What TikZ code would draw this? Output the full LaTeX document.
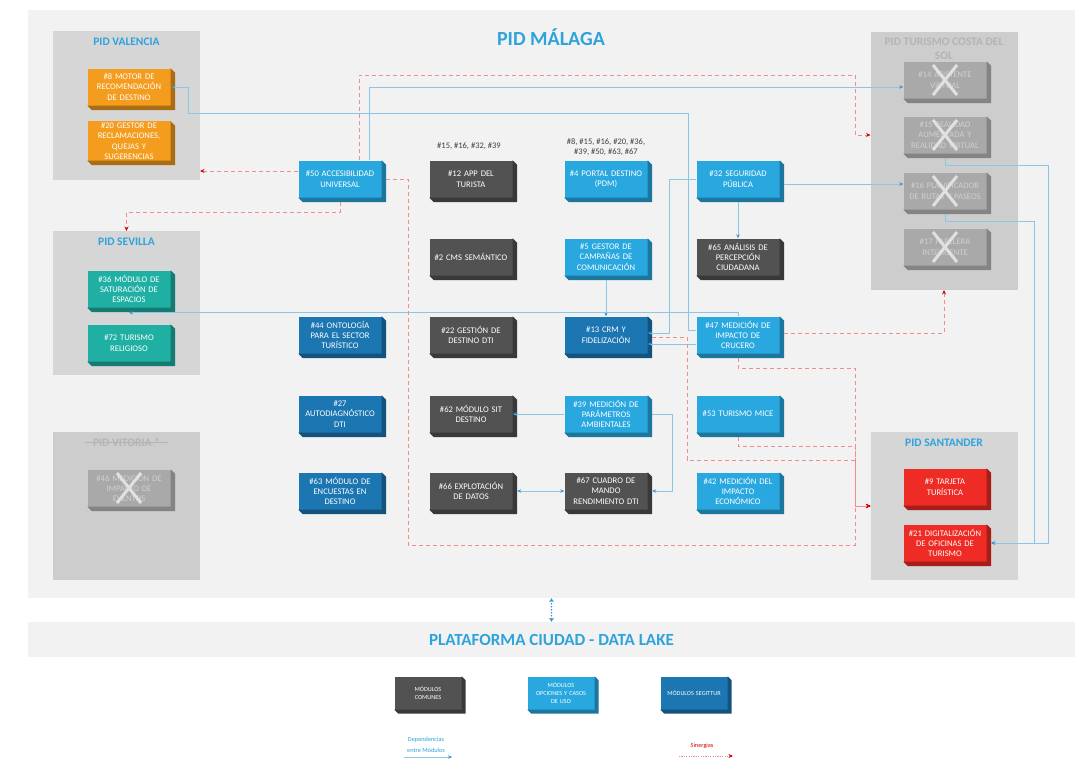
\documentclass[tikz,border=0pt]{standalone}
\usepackage{fontspec}
\setmainfont{Carlito}
\usetikzlibrary{arrows.meta,positioning}
\definecolor{panel}{HTML}{F2F2F2}
\definecolor{grp}{HTML}{D6D6D6}
\definecolor{grpoff}{HTML}{CDCDCD}
\definecolor{ttl}{HTML}{2EA3DC}
\definecolor{naranja}{HTML}{F39C1E}
\definecolor{turquesa}{HTML}{1FB0A3}
\definecolor{azul}{HTML}{29A8E0}
\definecolor{segittur}{HTML}{1B76B2}
\definecolor{comun}{HTML}{525252}
\definecolor{rojo}{HTML}{EE2B24}
\definecolor{apagado}{HTML}{A9A9A9}
\definecolor{linea}{HTML}{8DC5E6}
\definecolor{flecha}{HTML}{3C94CF}
\definecolor{sinerg}{HTML}{F08C8C}
\begin{document}
\begin{tikzpicture}[x=1pt,y=-1pt,
    mod/.style={fill=#1,text=white,minimum width=83pt,minimum height=37pt,
      text width=81pt,align=center,inner sep=1pt,font=\fontsize{8.6}{10.4}\selectfont},
    cruzado/.style={mod=apagado,text=apagado!55!white},
    leyenda/.style={mod=#1,minimum width=67pt,minimum height=33pt,text width=65pt,
      font=\fontsize{6.2}{7.6}\selectfont},
    grupo/.style={fill=#1,inner sep=0pt,outer sep=0pt,minimum width=147pt},
    gtit/.style={text=ttl,font=\fontsize{11.5}{13.5}\selectfont\bfseries,align=center},
    gtitoff/.style={gtit,text=grpoff!88!black},
    dep/.style={linea,line width=0.75pt,-{Stealth[length=4pt,width=3.5pt,color=flecha]}},
    sin/.style={sinerg,line width=0.75pt,dash pattern=on 4pt off 3pt,
      -{Stealth[length=4.5pt,width=4pt,color=red!85!black]}},
    nota/.style={text=black!75,font=\fontsize{8.5}{10}\selectfont,align=center}]
  \path[use as bounding box,fill=white] (0,0) rectangle (1087,758);
  \node[fill=panel,minimum width=1047pt,minimum height=588pt,inner sep=0pt] (malaga) at (551.5,304) {};
  \node[fill=panel,minimum width=1047pt,minimum height=35pt,inner sep=0pt] (lake) at (551.5,639.5) {};
  \node[text=ttl,font=\fontsize{20}{24}\selectfont\bfseries] (tmal) at (551,37) {PID MÁLAGA};
  \node[text=ttl,font=\fontsize{17}{20}\selectfont\bfseries] (tlake) at (lake) {PLATAFORMA CIUDAD - DATA LAKE};
  \node[grupo=grp,minimum height=149pt] (gval) at (126.5,105.5) {};
  \node[grupo=grp,minimum height=144pt] (gsev) at (126.5,303) {};
  \node[grupo=grpoff,minimum height=148pt] (gvit) at (126.5,505.5) {};
  \node[grupo=grpoff,minimum height=258pt] (gcos) at (944,161) {};
  \node[grupo=grp,minimum height=148pt] (gsan) at (944,506) {};
  \node[gtit] (tval) at ([yshift=-11pt]gval.north) {PID VALENCIA};
  \node[gtit] (tsev) at ([yshift=-11pt]gsev.north) {PID SEVILLA};
  \node[gtitoff,inner xsep=8pt] (tvit) at ([yshift=-11pt]gvit.north) {PID VITORIA *};
  \draw[grpoff!88!black,line width=0.5pt] (tvit.west) -- (tvit.east);
  \node[gtitoff] (tcos) at ([yshift=-17pt]gcos.north) {PID TURISMO COSTA DEL\\SOL};
  \node[gtit] (tsan) at ([yshift=-11pt]gsan.north) {PID SANTANDER};
  \node[nota] (l12) at (469,146) {\#15, \#16, \#32, \#39};
  \node[nota] (l4) at (606,147) {\#8, \#15, \#16, \#20, \#36,\\\#39, \#50, \#63, \#67};
  \foreach \nm/\x/\y/\col/\txt in {
      v8/129/87/naranja/{\#8 MOTOR DE\\RECOMENDACIÓN\\DE DESTINO},
      v20/129/141/naranja/{\#20 GESTOR DE\\RECLAMACIONES,\\QUEJAS Y\\SUGERENCIAS},
      s36/129/289/turquesa/{\#36 MÓDULO DE\\SATURACIÓN DE\\ESPACIOS},
      s72/129/343/turquesa/{\#72 TURISMO\\RELIGIOSO},
      m50/340/179/azul/{\#50 ACCESIBILIDAD\\UNIVERSAL},
      m44/340/335/segittur/{\#44 ONTOLOGÍA\\PARA EL SECTOR\\TURÍSTICO},
      m27/340/414/segittur/{\#27\\AUTODIAGNÓSTICO\\DTI},
      m63/340/491/segittur/{\#63 MÓDULO DE\\ENCUESTAS EN\\DESTINO},
      m12/471/179/comun/{\#12 APP DEL\\TURISTA},
      m2/471/257/comun/{\#2 CMS SEMÁNTICO},
      m22/471/335/comun/{\#22 GESTIÓN DE\\DESTINO DTI},
      m62/471/414/comun/{\#62 MÓDULO SIT\\DESTINO},
      m66/471/491/comun/{\#66 EXPLOTACIÓN\\DE DATOS},
      m4/606/179/azul/{\#4 PORTAL DESTINO\\(PDM)},
      m5/606/257/azul/{\#5 GESTOR DE\\CAMPAÑAS DE\\COMUNICACIÓN},
      m13/606/335/segittur/{\#13 CRM Y\\FIDELIZACIÓN},
      m39/606/414/azul/{\#39 MEDICIÓN DE\\PARÁMETROS\\AMBIENTALES},
      m67/606/491/comun/{\#67 CUADRO DE\\MANDO\\RENDIMIENTO DTI},
      m32/738/179/azul/{\#32 SEGURIDAD\\PÚBLICA},
      m65/738/257/comun/{\#65 ANÁLISIS DE\\PERCEPCIÓN\\CIUDADANA},
      m47/738/335/azul/{\#47 MEDICIÓN DE\\IMPACTO DE\\CRUCERO},
      m53/738/414/azul/{\#53 TURISMO MICE},
      m42/738/491/azul/{\#42 MEDICIÓN DEL\\IMPACTO\\ECONÓMICO},
      st9/945/487/rojo/{\#9 TARJETA\\TURÍSTICA},
      st21/945/543/rojo/{\#21 DIGITALIZACIÓN\\DE OFICINAS DE\\TURISMO}}{
    \node[mod=\col] (\nm) at (\x,\y) {\txt};
    \path[fill=\col!70!black] (\nm.north east) -- ++(4.5pt,-4.5pt) -- ([shift={(4.5pt,-4.5pt)}]\nm.south east)
      -- ([shift={(4.5pt,-4.5pt)}]\nm.south west) -- (\nm.south west) -- (\nm.south east) -- cycle;
  }
  \foreach \nm/\x/\y/\txt in {
      t46/129/488/{\#46 MEDICIÓN DE\\IMPACTO DE\\EVENTOS},
      c14/945/80/{\#14 ASISTENTE\\VIRTUAL},
      c15/945/135/{\#15 REALIDAD\\AUMENTADA Y\\REALIDAD VIRTUAL},
      c16/945/191/{\#16 PLANIFICADOR\\DE RUTAS Y PASEOS},
      c17/945/247/{\#17 PAPELERA\\INTELIGENTE}}{
    \node[cruzado] (\nm) at (\x,\y) {\txt};
    \path[fill=apagado!78!black] (\nm.north east) -- ++(4.5pt,-4.5pt) -- ([shift={(4.5pt,-4.5pt)}]\nm.south east)
      -- ([shift={(4.5pt,-4.5pt)}]\nm.south west) -- (\nm.south west) -- (\nm.south east) -- cycle;
    \draw[apagado!35!white,line width=3pt] ([shift={(-12pt,-15pt)}]\nm.center) -- ([shift={(12pt,15pt)}]\nm.center)
      ([shift={(-12pt,15pt)}]\nm.center) -- ([shift={(12pt,-15pt)}]\nm.center);
  }
  \foreach \nm/\x/\col/\txt in {lcom/428/comun/{MÓDULOS\\COMUNES},
      lopc/561/azul/{MÓDULOS\\OPCIONES Y CASOS\\DE USO}, lseg/694/segittur/{MÓDULOS SEGITTUR}}{
    \node[leyenda=\col] (\nm) at (\x,693) {\txt};
    \path[fill=\col!70!black] (\nm.north east) -- ++(4pt,-4pt) -- ([shift={(4pt,-4pt)}]\nm.south east)
      -- ([shift={(4pt,-4pt)}]\nm.south west) -- (\nm.south west) -- (\nm.south east) -- cycle;
  }
  \coordinate (p32) at ([shift={(4.5pt,-5pt)}]m32.east);
  \coordinate (p50) at ([yshift=8pt]m50.west);
  \draw[dep] ([xshift=29pt]m50.north) |- ([yshift=-7pt]c14.west);
  \draw[dep] ([yshift=5pt]m47.west) -- ++(-8,0) |- (188,113) |- (v8.east);
  \draw[dep] (m32.west) -- ++(-27,0) |- ([yshift=2pt]m13.east);
  \draw[dep] ([yshift=-9pt]m47.west) -- ([yshift=-9pt]m13.east);
  \draw[dep] ([yshift=-4.5pt]m5.south) -- (m13.north);
  \draw[dep] (m47.north) |- ([yshift=-5pt]s36.south);
  \draw[dep] ([yshift=-4.5pt]m32.south) -- (m65.north);
  \draw[dep] (p32) -- (p32 -| c16.west);
  \draw[dep] (m39.west) -- (m62.east);
  \draw[dep] ([xshift=4.5pt]m39.east) -- ++(20,0) |- ([xshift=4.5pt]m67.east);
  \draw[dep,{Stealth[length=4pt,width=3.5pt,color=flecha]}-{Stealth[length=4pt,width=3.5pt,color=flecha]}]
    ([xshift=4.5pt]m66.east) -- (m67.west);
  \draw[dep] ([yshift=-4.5pt]c15.south) |- (1048,165) |- ([xshift=4.5pt]st21.east);
  \draw[dep] ([yshift=-4.5pt]c16.south) |- (1034,221) |- ([xshift=4.5pt]st21.east);
  \draw[sin] ([xshift=19pt]m50.north) |- (855,75) |- (gcos.west |- c15);
  \draw[sin] (p50) -- (p50 -| gval.east);
  \draw[sin] ([yshift=-4.5pt]m50.south) -- ++(0,10) -| (gsev.north);
  \draw[sin] ([xshift=4.5pt]m50.east) -| (408,545) -| (855,506) -- (gsan.west);
  \draw[sin] ([shift={(4.5pt,-2pt)}]m13.east) -| (687,460) -| (855,506) -- (gsan.west);
  \draw[sin] ([yshift=-4.5pt]m47.south) -- ++(0,10) -| (855,506) -- (gsan.west);
  \draw[sin] ([yshift=-4.5pt]m53.south) -- ++(0,9) -| (855,506) -- (gsan.west);
  \draw[sin] ([shift={(4.5pt,2pt)}]m47.east) -| (gcos.south);
  \draw[flecha,line width=1.8pt,line cap=round,dash pattern=on 0pt off 3pt,
    {Stealth[length=4pt,width=5pt]}-{Stealth[length=4pt,width=5pt]}] (malaga.south) -- (lake.north);
  \node[text=ttl,font=\fontsize{6.3}{10.5}\selectfont,align=center] (tdep) at (426,745) {Dependencias\\entre Módulos};
  \node[text=red!85!black,font=\fontsize{6.3}{7}\selectfont] (tsin) at (702,746) {Sinergias};
  \coordinate (d1) at (404,757);
  \coordinate (d2) at (452,757);
  \coordinate (s1) at (679,756);
  \coordinate (s2) at (733,756);
  \draw[dep] (d1) -- (d2);
  \draw[sin,dash pattern=on 1.2pt off 1.2pt] (s1) -- (s2);
\end{tikzpicture}
\end{document}
